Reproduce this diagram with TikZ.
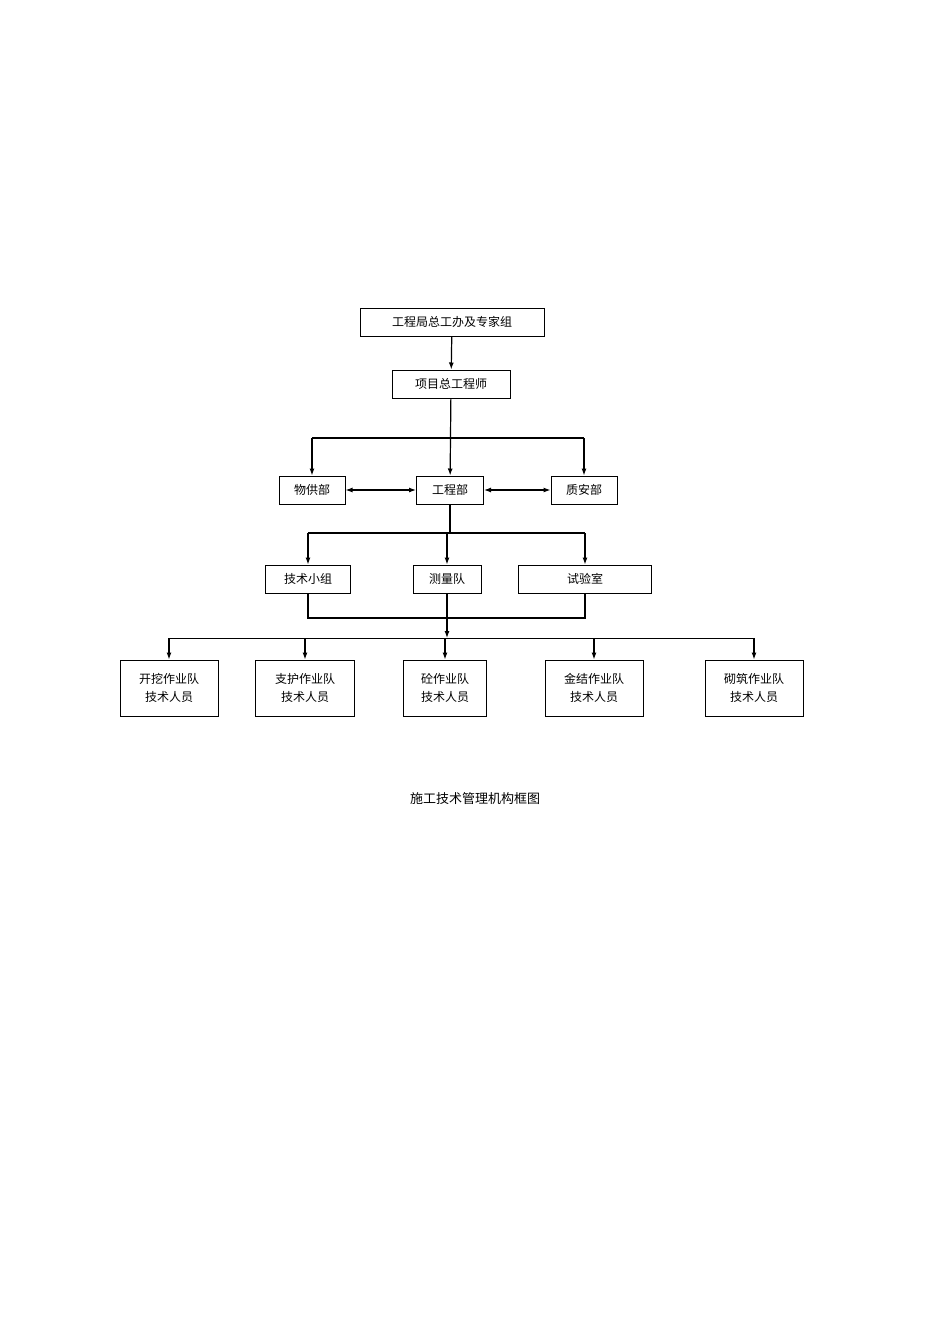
\documentclass[tikz,border=0pt]{standalone}
\usepackage{fontspec}
\setmainfont{Noto Sans CJK SC}
\usetikzlibrary{arrows.meta}
\begin{document}
\begin{tikzpicture}[x=1pt,y=-1pt,
  bx/.style={draw,line width=1pt,inner sep=0pt,font=\fontsize{12}{14}\selectfont},
  ar/.style={line width=1.2pt,-{Latex[length=7pt,width=5pt]}},
  ln/.style={line width=1.2pt}]
\useasboundingbox (0,0) rectangle (950,1344);
\node[bx,minimum width=184,minimum height=28] (top) at (452,322) {工程局总工办及专家组};
\node[bx,minimum width=118,minimum height=28] (pce) at (451,384) {项目总工程师};
\node[bx,minimum width=66,minimum height=28] (wg) at (312,490) {物供部};
\node[bx,minimum width=67,minimum height=28] (gc) at (450,490) {工程部};
\node[bx,minimum width=66,minimum height=28] (za) at (584,490) {质安部};
\node[bx,minimum width=85,minimum height=28] (js) at (308,579) {技术小组};
\node[bx,minimum width=68,minimum height=28] (cl) at (447,579) {测量队};
\node[bx,minimum width=133,minimum height=28] (sy) at (585,579) {试验室};
\foreach \n/\x/\w/\t in {b1/169/98/开挖作业队,b2/305/99/支护作业队,b3/445/83/砼作业队,b4/594/98/金结作业队,b5/754/98/砌筑作业队}
  \node[bx,minimum width=\w,minimum height=56,align=center] (\n) at (\x,688) {\t\\[4pt]技术人员};
\node[font=\fontsize{13}{15}\selectfont] (cap) at (475,799) {施工技术管理机构框图};
\draw[ar] (top) -- (pce);
\draw[ar] (pce) -- (gc);
\coordinate (s1) at (451,438);
\draw[ln] (s1 -| wg) -- (s1 -| za);
\draw[ar] (s1 -| wg) -- (wg);
\draw[ar] (s1 -| za) -- (za);
\draw[ar,{Latex[length=7pt,width=5pt]}-{Latex[length=7pt,width=5pt]}] (wg) -- (gc);
\draw[ar,{Latex[length=7pt,width=5pt]}-{Latex[length=7pt,width=5pt]}] (gc) -- (za);
\coordinate (s2) at (450,533);
\draw[ln] (gc) -- (s2);
\draw[ln] (s2 -| js) -- (s2 -| sy);
\draw[ar] (s2 -| js) -- (js);
\draw[ar] (s2 -| cl) -- (cl);
\draw[ar] (s2 -| sy) -- (sy);
\coordinate (s3) at (447,618);
\draw[ln] (js.south) -- (s3 -| js) -- (s3 -| sy) -- (sy.south);
\coordinate (s4) at (447,638);
\draw[ar] (cl) -- (s4);
\draw[line width=0.8pt] (s4 -| b1) -- (s4 -| b5);
\foreach \n in {b1,b2,b3,b4,b5} \draw[ar] (s4 -| \n) -- (\n);
\end{tikzpicture}
\end{document}
